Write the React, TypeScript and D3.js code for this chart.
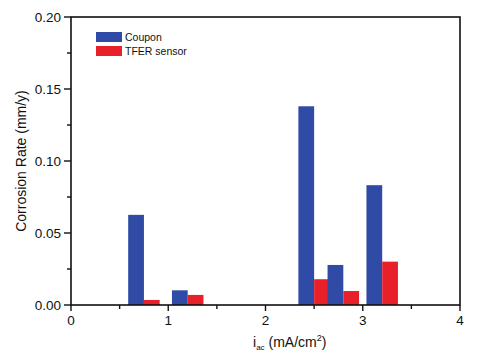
import React from "react";
import * as d3 from "d3";

const positions = [0.75, 1.2, 2.5, 2.8, 3.2];
const couponValues = [0.0626, 0.0102, 0.138, 0.0278, 0.0832];
const tferValues = [0.0035, 0.007, 0.0179, 0.0097, 0.0301];
const seriesNames = ["Coupon", "TFER sensor"];
const xTicks = [0, 1, 2, 3, 4];
const yTicks = [0, 0.05, 0.1, 0.15, 0.2];

const BLUE = "#2f4ba6";
const RED = "#e8202a";
const FONT = "'Liberation Sans', Arial, sans-serif";

export default function App() {
  const W = 481, H = 359;
  const left = 71, right = 460, top = 17, bottom = 305;
  const x = d3.scaleLinear().domain([0, 4]).range([left, right]);
  const y = d3.scaleLinear().domain([0, 0.2]).range([bottom, top]);
  const bw = 0.162;
  const xMinor = d3.range(0.5, 4, 1);
  const yMinor = d3.range(0.025, 0.2, 0.05);

  return (
    <svg width={W} height={H} style={{ position: "absolute", left: 0, top: 0, background: "#fff" }} fontFamily={FONT}>
      {positions.map((p, i) => (
        <g key={i}>
          <rect x={x(p - bw)} y={y(couponValues[i])} width={x(p) - x(p - bw)} height={y(0) - y(couponValues[i])} fill={BLUE} />
          <rect x={x(p)} y={y(tferValues[i])} width={x(p + bw) - x(p)} height={y(0) - y(tferValues[i])} fill={RED} />
        </g>
      ))}
      <rect x={left} y={top} width={right - left} height={bottom - top} fill="none" stroke="#111" strokeWidth={1.6} />
      {yTicks.map((t) => (
        <g key={"y" + t}>
          <line x1={left - 7} x2={left} y1={y(t)} y2={y(t)} stroke="#111" strokeWidth={1.4} />
          <text x={left - 10} y={y(t)} dy="0.35em" textAnchor="end" fontSize={13.5} fill="#111">{t.toFixed(2)}</text>
        </g>
      ))}
      {yMinor.map((t) => (
        <line key={"ym" + t} x1={left - 4} x2={left} y1={y(t)} y2={y(t)} stroke="#111" strokeWidth={1.4} />
      ))}
      {xTicks.map((t) => (
        <g key={"x" + t}>
          <line x1={x(t)} x2={x(t)} y1={bottom} y2={bottom + 6} stroke="#111" strokeWidth={1.4} />
          <text x={x(t)} y={bottom + 20} textAnchor="middle" fontSize={13.5} fill="#111">{t}</text>
        </g>
      ))}
      {xMinor.map((t) => (
        <line key={"xm" + t} x1={x(t)} x2={x(t)} y1={bottom} y2={bottom + 4} stroke="#111" strokeWidth={1.4} />
      ))}
      <text transform={`translate(26,${(top + bottom) / 2}) rotate(-90)`} textAnchor="middle" fontSize={14} fill="#111">
        Corrosion Rate (mm/y)
      </text>
      <text x={253} y={347} fontSize={14} fill="#111">
        i<tspan fontSize={8} dy={3}>ac</tspan><tspan dy={-3}> (mA/cm</tspan><tspan fontSize={9} dy={-6}>2</tspan><tspan dy={6}>)</tspan>
      </text>
      {seriesNames.map((n, i) => (
        <g key={n}>
          <rect x={96} y={32 + i * 14} width={26} height={10} fill={i === 0 ? BLUE : RED} />
          <text x={125} y={41 + i * 14} fontSize={10.5} fill="#111">{n}</text>
        </g>
      ))}
    </svg>
  );
}
